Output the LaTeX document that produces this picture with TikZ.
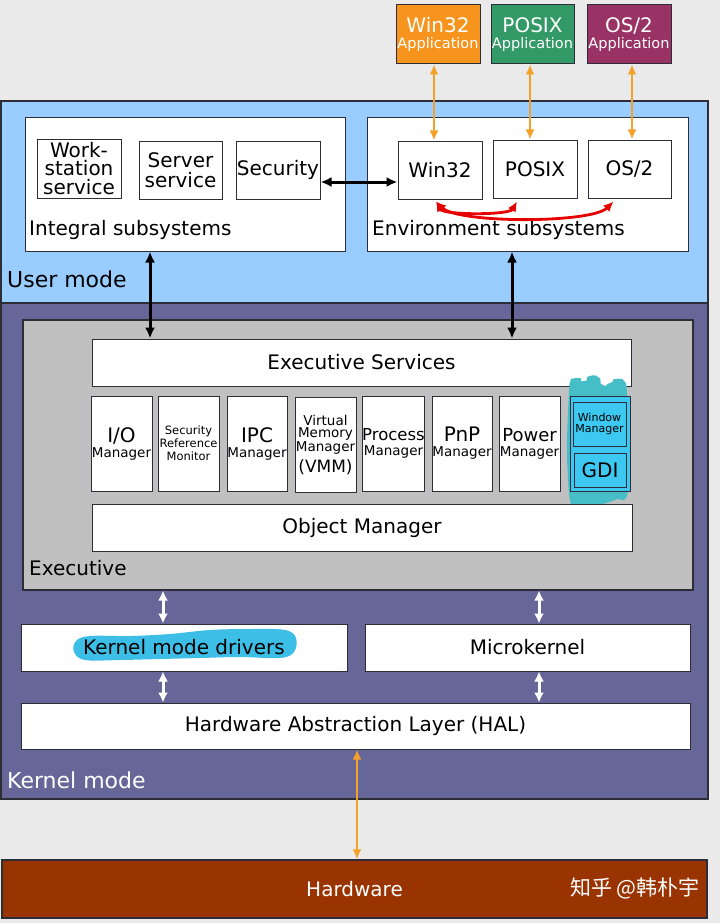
\documentclass[tikz,border=0pt]{standalone}
\usepackage{fontspec}
\setmainfont{DejaVu Sans}
\newfontfamily\cjkfont{Noto Sans CJK SC}
\usetikzlibrary{arrows.meta,calc}
\newcommand\myfs[2]{\fontsize{#1}{#2}\selectfont}
\definecolor{bgc}{RGB}{234,234,234}
\definecolor{userblue}{RGB}{153,204,255}
\definecolor{kernpurple}{RGB}{102,102,153}
\definecolor{execgray}{RGB}{192,192,192}
\definecolor{appor}{RGB}{247,148,30}
\definecolor{appgreen}{RGB}{51,153,102}
\definecolor{appmaroon}{RGB}{153,51,102}
\definecolor{hwred}{RGB}{153,51,0}
\definecolor{arrowor}{RGB}{245,160,40}
\definecolor{gdiblue}{RGB}{60,200,240}
\definecolor{scribteal}{RGB}{70,190,200}
\definecolor{scribblue}{RGB}{60,190,230}
\definecolor{edge}{RGB}{45,45,55}
\definecolor{arrred}{RGB}{230,0,0}
\begin{document}
\begin{tikzpicture}[x=1pt,y=-1pt,
  box/.style={draw=edge, line width=1pt, fill=white, inner sep=0pt, align=center, text=black},
  region/.style={draw=edge, line width=1.2pt, inner sep=0pt},
  appbox/.style={box, text=white, minimum width=84pt, minimum height=59pt, font=\myfs{14.5}{16}},
  mgr/.style={box, minimum width=61pt, minimum height=95pt, font=\myfs{13.5}{15}},
  lbl/.style={anchor=base west, inner sep=0pt},
  big/.style={font=\myfs{20}{20}},
  orar/.style={arrowor, line width=2.5pt, {Latex[length=10pt,width=9pt]}-{Latex[length=10pt,width=9pt]}},
  blkar/.style={black, line width=3pt, {Latex[length=11pt,width=10pt]}-{Latex[length=11pt,width=10pt]}},
  whar/.style={white, line width=3pt, {Latex[length=10pt,width=10pt]}-{Latex[length=10pt,width=10pt]}},
  redar/.style={arrred, line width=2.8pt, {Latex[length=10pt,width=9pt]}-{Latex[length=10pt,width=9pt]}},
]
\fill[bgc] (0,0) rectangle (720,923);
\useasboundingbox (0,0) rectangle (720,923);

% applications
\node[appbox, fill=appor] (winapp) at (438,34.5) {\myfs{20}{20}Win32\\Application};
\node[appbox, fill=appgreen, minimum width=83pt] (posixapp) at (532.5,34.5) {\myfs{20}{20}POSIX\\Application};
\node[appbox, fill=appmaroon] (os2app) at (629,34.5) {\myfs{20}{20}OS/2\\Application};

% regions
\node[region, fill=userblue, minimum width=707pt, minimum height=202pt] (user) at (354.5,202) {};
\node[region, fill=kernpurple, minimum width=707pt, minimum height=496pt] (kernel) at (354.5,551) {};
\node[lbl, font=\myfs{22}{22}] (ulabel) at (7,287) {User mode};
\node[lbl, font=\myfs{22}{22}, text=white] (klabel) at (7,788) {Kernel mode};

% integral subsystems
\node[box, minimum width=320pt, minimum height=133pt] (integral) at (185,184.5) {};
\node[lbl, big] (intlabel) at (29,235) {Integral subsystems};
\node[box, minimum width=84pt, minimum height=59pt, font=\myfs{20}{18.5}] (workst) at (79,168.5) {Work-\\station\\service};
\node[box, minimum width=83pt, minimum height=58pt, font=\myfs{20}{20}] (server) at (180.5,170) {Server\\service};
\node[box, minimum width=84pt, minimum height=58pt, big] (security) at (278,170) {Security};

% environment subsystems
\node[box, minimum width=321pt, minimum height=133pt] (environment) at (527.5,184.5) {};
\node[lbl, big] (envlabel) at (372,235) {Environment subsystems};
\node[box, minimum width=84pt, minimum height=58pt, big] (win32) at (440,170) {Win32};
\node[box, minimum width=84pt, minimum height=58pt, big] (posix) at (535,169) {POSIX};
\node[box, minimum width=83pt, minimum height=58pt, big] (os2) at (629.5,169) {OS/2};

% executive
\node[region, fill=execgray, minimum width=670pt, minimum height=270pt] (executive) at (358,455) {};
\node[lbl, big] (exlabel) at (29,575) {Executive};
\node[box, big, minimum width=539pt, minimum height=47pt] (execsvc) at (361.5,362.5) {Executive Services};
\node[mgr] (io) at (121.5,443.5) {\myfs{20}{20}I/O\\Manager};
\node[mgr, font=\myfs{11.5}{13}] (srm) at (188.5,443.5) {Security\\Reference\\Monitor};
\node[mgr, minimum width=60pt] (ipc) at (257,443.5) {\myfs{20}{20}IPC\\Manager};
\node[mgr, font=\myfs{13.5}{12.5}] (vmm) at (325.5,445) {Virtual\\Memory\\Manager\\[5pt]\myfs{17}{17}(VMM)};
\node[mgr] (proc) at (393.5,443.5) {\myfs{16.5}{17}Process\\Manager};
\node[mgr, minimum width=60pt] (pnp) at (462,443.5) {\myfs{20}{20}PnP\\Manager};
\node[mgr] (power) at (529.5,443.5) {\myfs{18}{18}Power\\Manager};
\fill[scribteal, rounded corners=3pt] plot[smooth cycle, tension=0.5] coordinates {(569,392) (571,381) (578,378) (584,381) (590,376) (598,377) (603,385) (610,383) (616,379) (624,381) (627,392) (629,450) (627,495) (615,500) (600,505) (590,508) (578,507) (570,500) (567,450)};
\node[box, fill=gdiblue, minimum width=60pt, minimum height=95pt] (gdigroup) at (600,443.5) {};
\node[box, fill=gdiblue, minimum width=53pt, minimum height=44pt, font=\myfs{11}{11.5}] (winmgr) at (599.5,424) {Window\\Manager};
\node[box, fill=gdiblue, minimum width=52pt, minimum height=34pt, big] (gdi) at (600,470) {GDI};
\node[box, big, minimum width=540pt, minimum height=47pt] (objmgr) at (362,527.5) {Object Manager};

% kernel parts
\node[box, minimum width=326pt, minimum height=47pt] (drivers) at (184,647.5) {};
\fill[scribblue] plot[smooth cycle, tension=0.6] coordinates {(76,641) (90,636) (130,636) (170,634) (210,630) (250,629) (285,630) (296,638) (294,652) (280,658) (240,657) (200,658) (160,659) (120,660) (85,660) (74,652)};
\node[big, inner sep=0pt] (drvtext) at (drivers.center) {Kernel mode drivers};
\node[box, big, minimum width=325pt, minimum height=47pt] (microkernel) at (527.5,647.5) {Microkernel};
\node[box, big, minimum width=669pt, minimum height=46pt] (hal) at (355.5,726) {Hardware Abstraction Layer (HAL)};

% hardware
\node[region, fill=hwred, minimum width=705pt, minimum height=58pt, big, text=white] (hardware) at (354.5,889) {Hardware};
\node[anchor=east, inner sep=0pt, text=white, font=\cjkfont\myfs{21}{21}] (wm) at (700,888) {知乎 @韩朴宇};

% arrows
\draw[orar] ($(winapp.south)+(-4,0)$) -- ($(win32.north)+(-6,0)$);
\draw[orar] ($(posixapp.south)+(-2.5,0)$) -- ($(posix.north)+(-5,0)$);
\draw[orar] ($(os2app.south)+(3,0)$) -- ($(os2.north)+(2.5,0)$);
\draw[blkar] ($(security.east)+(0,12)$) -- ($(win32.west)+(0,12)$);
\draw[blkar] ($(integral.south)+(-35,0)$) -- ($(execsvc.north)+(-211.5,0)$);
\draw[blkar] ($(environment.south)+(-15.5,0)$) -- ($(execsvc.north)+(150.5,0)$);
\draw[redar] ($(win32.south)+(-4,2)$) to[out=-60, in=-120, looseness=0.5] ($(posix.south)+(-18,3)$);
\draw[redar] ($(win32.south)+(-4,2)$) to[out=-45, in=-135, looseness=0.45] ($(os2.south)+(-16,3)$);
\draw[whar] ($(executive.south)+(-195,0)$) -- ($(drivers.north)+(-21,0)$);
\draw[whar] ($(executive.south)+(181,0)$) -- ($(microkernel.north)+(11.5,0)$);
\draw[whar] ($(drivers.south)+(-21,0)$) -- ($(hal.north)+(-192.5,0)$);
\draw[whar] ($(microkernel.south)+(11.5,0)$) -- ($(hal.north)+(183.5,0)$);
\draw[orar] ($(hal.south)+(1.5,0)$) -- ($(hardware.north)+(2.5,0)$);
\end{tikzpicture}
\end{document}
